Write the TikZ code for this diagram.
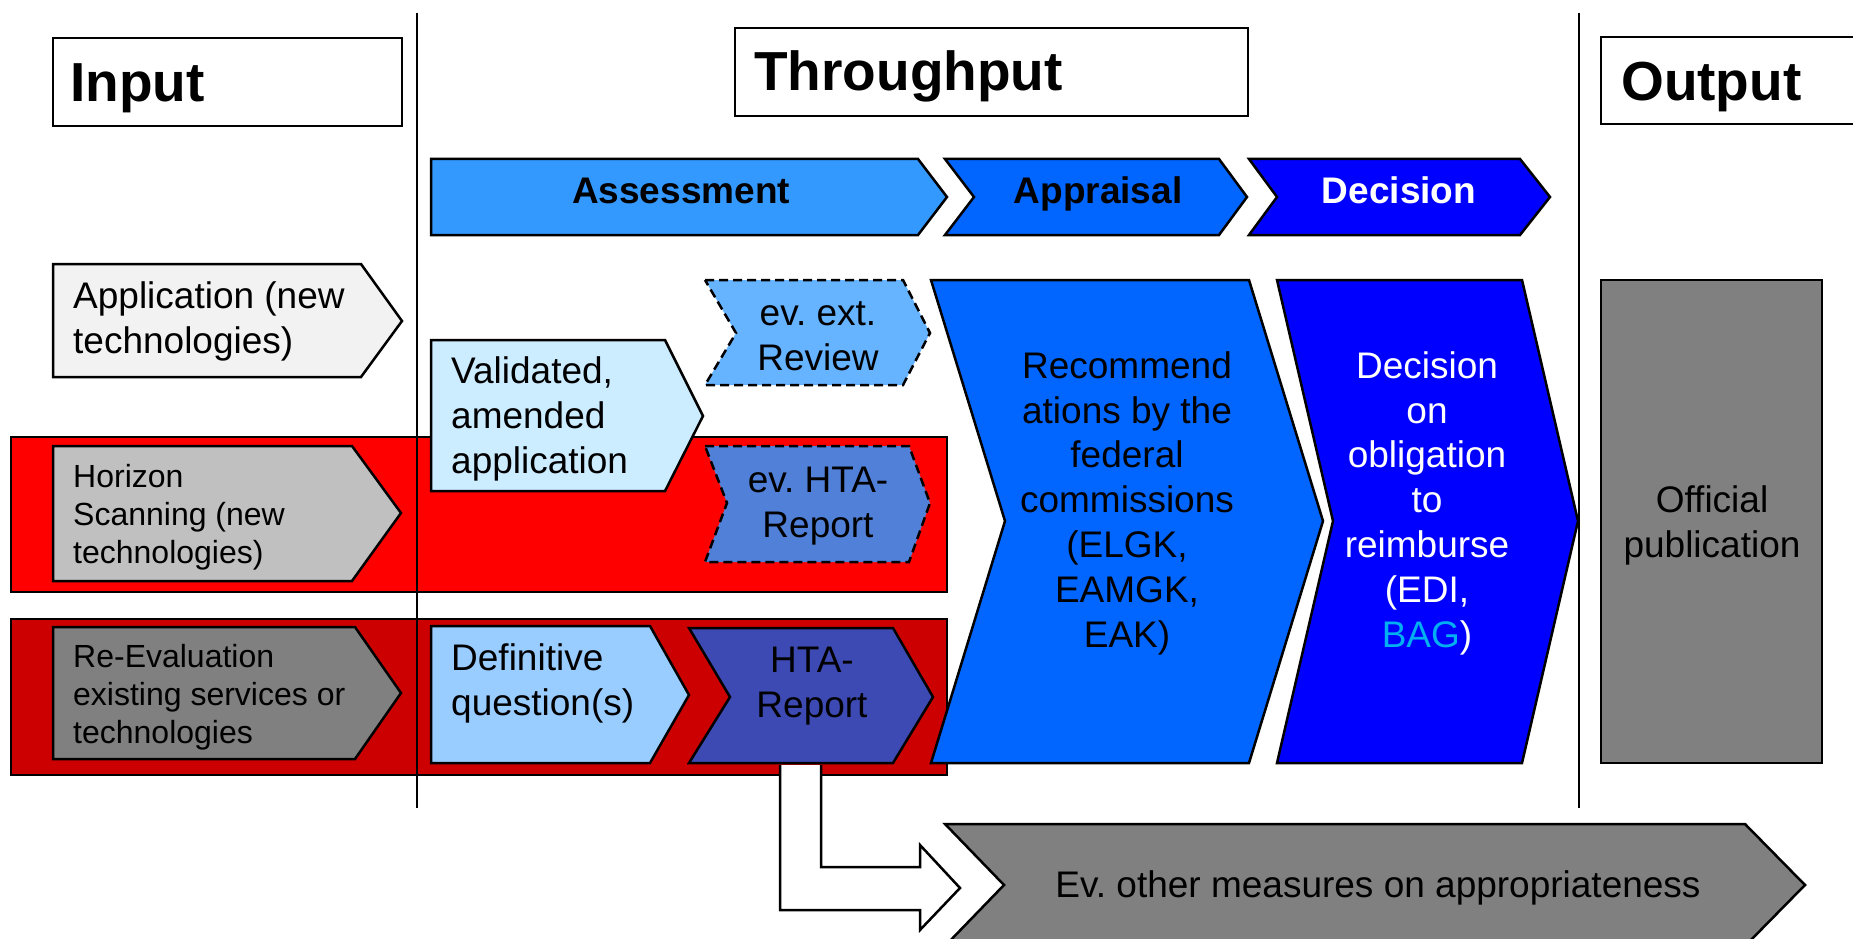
\documentclass[tikz,border=0pt]{standalone}
\usepackage{fontspec}
\setmainfont{Liberation Sans}
\frenchspacing
\definecolor{cRedA}{HTML}{FF0000}
\definecolor{cRedB}{HTML}{CC0000}
\definecolor{cAssess}{HTML}{3399FF}
\definecolor{cApprais}{HTML}{0066FF}
\definecolor{cDecis}{HTML}{0000FF}
\definecolor{cAppl}{HTML}{F2F2F2}
\definecolor{cHor}{HTML}{C0C0C0}
\definecolor{cReev}{HTML}{808080}
\definecolor{cValid}{HTML}{CCECFF}
\definecolor{cExtrev}{HTML}{66B3FF}
\definecolor{cEvhta}{HTML}{5080D8}
\definecolor{cDefq}{HTML}{99CCFF}
\definecolor{cHta}{HTML}{3D4AB3}
\definecolor{cGray}{HTML}{808080}
\definecolor{cBag}{HTML}{00B0F0}
\begin{document}
\begin{tikzpicture}[x=1pt,y=-1pt,
  blk/.style={draw=black,line width=2.5pt,line join=miter},
  dsh/.style={blk,dash pattern=on 9pt off 5pt},
  divider/.style={draw=black,line width=2pt},
  head/.style={inner sep=0pt,font=\fontsize{55}{66}\selectfont\bfseries},
  phase/.style={inner sep=0pt,font=\fontsize{37}{44}\selectfont\bfseries},
  txt/.style={inner sep=0pt,font=\fontsize{37}{44.8}\selectfont},
  small/.style={inner sep=0pt,font=\fontsize{32}{38}\selectfont},
]
\useasboundingbox (0,0) rectangle (1853,939);
\clip (0,0) rectangle (1853,939);

% red bands
\path[blk,fill=cRedA] (11,437) rectangle (947,592);
\path[blk,fill=cRedB] (11,619) rectangle (947,775);

% dividers
\coordinate (d1t) at (417,13); \coordinate (d1b) at (417,808);
\coordinate (d2t) at (1579,13); \coordinate (d2b) at (1579,808);
\path[divider] (d1t) -- (d1b);
\path[divider] (d2t) -- (d2b);

% header boxes
\path[blk,fill=white] (53,38) rectangle (402,126);
\node[head,anchor=base west] (input) at (70,102) {Input};
\path[blk,fill=white] (735,28) rectangle (1248,116);
\node[head,anchor=base west] (through) at (754,91) {Throughput};
\path[blk,fill=white] (1601,37) rectangle (1900,124);
\node[head,anchor=base west] (output) at (1621,101) {Output};

% phase chevrons
\path[blk,fill=cAssess] (431,159) -- (918,159) -- (947,197) -- (918,235) -- (431,235) -- cycle;
\node[phase,anchor=base] (assessment) at (681,204) {Assessment};
\path[blk,fill=cApprais] (945,159) -- (1219,159) -- (1247,197) -- (1219,235) -- (945,235) -- (974,197) -- cycle;
\node[phase,anchor=base] (appraisal) at (1098,204) {Appraisal};
\path[blk,fill=cDecis] (1249,159) -- (1520,159) -- (1550,197) -- (1520,235) -- (1249,235) -- (1277,197) -- cycle;
\node[phase,anchor=base,text=white] (decision) at (1399,204) {Decision};

% Application
\path[blk,fill=cAppl] (53,264) -- (361,264) -- (402,321) -- (361,377) -- (53,377) -- cycle;
\node[txt,anchor=base west,align=left] (app) at (73,353) {Application (new\\technologies)};

% Validated
\path[blk,fill=cValid] (431,340) -- (665,340) -- (703,416) -- (665,491) -- (431,491) -- cycle;
\node[txt,anchor=base west,align=left] (val) at (451,473) {Validated,\\amended\\application};

% ev. ext. Review
\path[dsh,fill=cExtrev] (705,280) -- (903,280) -- (930,333) -- (903,385) -- (705,385) -- (736,333) -- cycle;
\node[txt,anchor=base,align=center] (rev) at (818,370) {ev. ext.\\Review};

% Horizon
\path[blk,fill=cHor] (53,446) -- (352,446) -- (401,513) -- (352,581) -- (53,581) -- cycle;
\node[small,anchor=base west,align=left] (horiz) at (73,563) {Horizon\\Scanning (new\\technologies)};

% ev. HTA-Report
\path[dsh,fill=cEvhta] (705,446) -- (909,446) -- (930,503) -- (909,562) -- (705,562) -- (727,503) -- cycle;
\node[txt,anchor=base,align=center] (evhta) at (818,537) {ev. HTA-\\Report};

% Re-Evaluation
\path[blk,fill=cReev] (53,627) -- (355,627) -- (401,693) -- (355,759) -- (53,759) -- cycle;
\node[small,anchor=base west,align=left] (reeval) at (73,743) {Re-Evaluation\\existing services or\\technologies};

% Definitive question(s)
\path[blk,fill=cDefq] (431,626) -- (650,626) -- (689,695) -- (650,763) -- (431,763) -- cycle;
\node[txt,anchor=base west,align=left] (defq) at (451,715) {Definitive\\question(s)};

% HTA-Report
\path[blk,fill=cHta] (689,628) -- (893,628) -- (933,697) -- (893,763) -- (689,763) -- (730,697) -- cycle;
\node[txt,anchor=base,align=center] (hta) at (812,717) {HTA-\\Report};

% Recommendations
\path[blk,fill=cApprais] (931,280) -- (1249,280) -- (1323,521) -- (1249,763) -- (931,763) -- (1005,521) -- cycle;
\node[txt,anchor=base,align=center] (rec) at (1127,647) {Recommend\\ations by the\\federal\\commissions\\(ELGK,\\EAMGK,\\EAK)};

% Decision on obligation
\path[blk,fill=cDecis] (1277,280) -- (1522,280) -- (1578,521) -- (1522,763) -- (1277,763) -- (1333,521) -- cycle;
\node[txt,anchor=base,align=center,text=white] (dec) at (1427,647) {Decision\\on\\obligation\\to\\reimburse\\(EDI,\\\textcolor{cBag}{BAG})};

% Official publication
\path[blk,fill=cGray] (1601,280) rectangle (1822,763);
\node[txt,anchor=base,align=center] (off) at (1712,557) {Official\\publication};

% Ev. other measures
\path[blk,fill=cGray] (945,824) -- (1745,824) -- (1805,885) -- (1745,946) -- (945,946) -- (1004,885) -- cycle;
\node[txt,anchor=base] (ev) at (1378,897) {Ev. other measures on appropriateness};

% bent block arrow from HTA-Report
\path[blk,fill=white] (821,765) -- (821,867) -- (920,867) -- (920,845) -- (960,888) -- (920,930) -- (920,910) -- (780,910) -- (780,765);
\end{tikzpicture}
\end{document}
